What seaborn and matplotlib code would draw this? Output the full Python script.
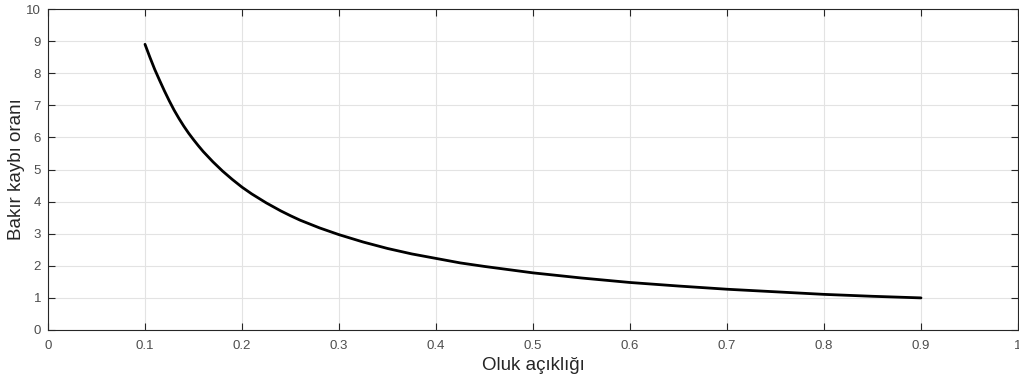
import matplotlib
matplotlib.use("Agg")
import matplotlib.pyplot as plt
import seaborn as sns
import pandas as pd

oluk = [0.100, 0.105, 0.110, 0.115, 0.120, 0.125, 0.130, 0.135, 0.140, 0.145, 0.150, 0.155,
        0.160, 0.170, 0.180, 0.190, 0.200, 0.210, 0.225, 0.240, 0.250, 0.260, 0.275, 0.280,
        0.300, 0.325, 0.350, 0.375, 0.400, 0.425, 0.450, 0.500, 0.550, 0.600, 0.650, 0.700,
        0.750, 0.800, 0.850, 0.900]
kayip = [8.90, 8.50, 8.12, 7.78, 7.45, 7.14, 6.85, 6.59, 6.35, 6.13, 5.93, 5.74,
         5.56, 5.24, 4.95, 4.69, 4.45, 4.24, 3.96, 3.71, 3.56, 3.42, 3.24, 3.18,
         2.97, 2.74, 2.54, 2.37, 2.23, 2.09, 1.98, 1.78, 1.62, 1.48, 1.37, 1.27,
         1.19, 1.11, 1.05, 1.00]

xticks = [0, 0.1, 0.2, 0.3, 0.4, 0.5, 0.6, 0.7, 0.8, 0.9, 1]
xticklabels = ["0", "0.1", "0.2", "0.3", "0.4", "0.5", "0.6", "0.7", "0.8", "0.9", "1"]
yticks = list(range(0, 11))

sns.set_style("white")
plt.rcParams['font.family'] = ['Liberation Sans', 'DejaVu Sans']

df = pd.DataFrame({"x": oluk, "y": kayip})
fig = plt.figure(figsize=(10.2, 3.79), dpi=100)
ax = fig.add_axes([48/1020, 1-330/379, 970/1020, 321/379])
sns.lineplot(data=df, x="x", y="y", ax=ax, color="black", linewidth=2)
ax.set_xlim(0, 1)
ax.set_ylim(0, 10)
ax.set_xticks(xticks)
ax.set_xticklabels(xticklabels)
ax.set_yticks(yticks)
ax.grid(True, color="#e3e3e3", linewidth=0.8)
ax.tick_params(direction="in", length=5, width=0.8, color="#262626",
               labelsize=9.5, labelcolor="#4d4d4d", top=True, right=True,
               bottom=True, left=True)
ax.tick_params(axis="x", pad=7)
ax.tick_params(axis="y", pad=5)
for s in ax.spines.values():
    s.set_color("#262626")
    s.set_linewidth(0.8)
ax.set_xlabel("Oluk açıklığı", fontsize=13.5, color="#262626")
ax.set_ylabel("Bakır kaybı oranı", fontsize=13.5, color="#262626")
ax.xaxis.set_label_coords(0.5, (330 - 365) / 321)
ax.yaxis.set_label_coords((17 - 48) / 970, 0.5)
ax.xaxis.label.set_va("center")
ax.yaxis.label.set_va("center")
fig.savefig("out.png", dpi=100)
